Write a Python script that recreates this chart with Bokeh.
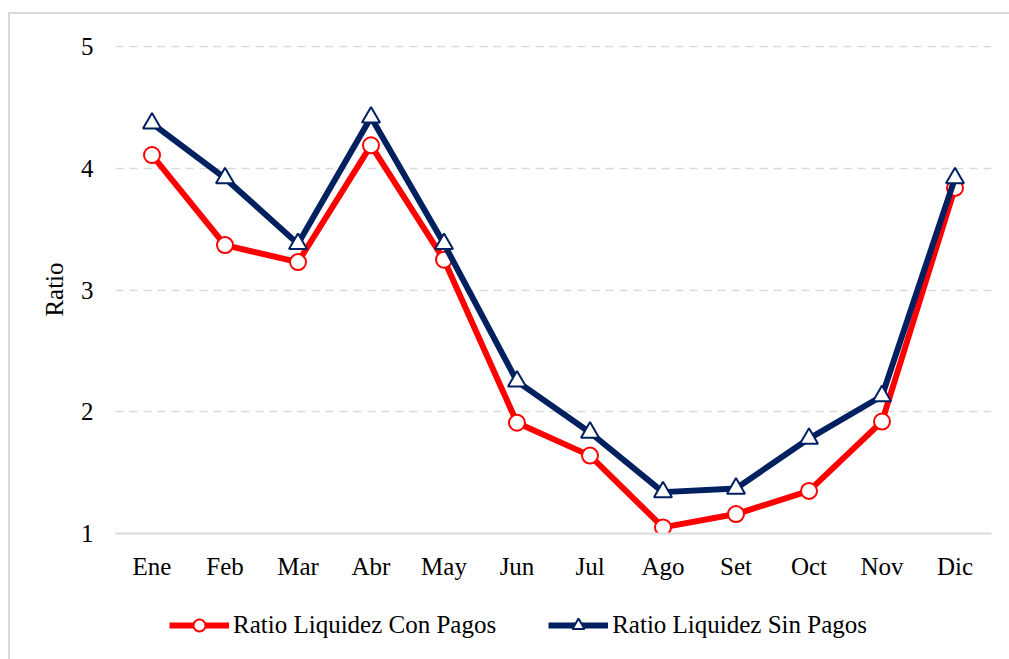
from bokeh.plotting import figure
from bokeh.models import Range1d, Legend, LegendItem, FixedTicker
from bokeh.layouts import column
from bokeh.embed import file_html
from bokeh.resources import INLINE

months = ["Ene", "Feb", "Mar", "Abr", "May", "Jun", "Jul", "Ago", "Set", "Oct", "Nov", "Dic"]
con_pagos = [4.11, 3.37, 3.23, 4.19, 3.25, 1.91, 1.64, 1.05, 1.16, 1.35, 1.92, 3.84]
sin_pagos = [4.37, 3.92, 3.38, 4.42, 3.38, 2.25, 1.83, 1.34, 1.37, 1.78, 2.13, 3.92]
y_ticks = [1, 2, 3, 4, 5]
series_labels = ["Ratio Liquidez Con Pagos", "Ratio Liquidez Sin Pagos"]

RED = "#FF0000"
NAVY = "#002060"
FONT = "Liberation Serif"
FS = "25px"

p = figure(width=999, height=569, x_range=months, y_range=Range1d(1, 5.01),
           output_backend="svg", toolbar_location=None,
           min_border_left=105, min_border_top=31, min_border_right=18, min_border_bottom=50)
p.outline_line_color = None
p.background_fill_color = "white"
p.border_fill_color = "white"

p.xgrid.grid_line_color = None
p.ygrid.grid_line_color = "#d9d9d9"
p.ygrid.grid_line_dash = "8 6"
p.ygrid.grid_line_width = 1.5
p.yaxis.ticker = FixedTicker(ticks=y_ticks)

p.xaxis.axis_line_color = "#d9d9d9"
p.xaxis.axis_line_width = 2
p.xaxis.major_tick_line_color = None
p.xaxis.minor_tick_line_color = None
p.xaxis.major_label_text_font = FONT
p.xaxis.major_label_text_font_size = FS
p.xaxis.major_label_text_color = "black"
p.xaxis.major_label_standoff = 13

p.yaxis.axis_line_color = None
p.yaxis.major_tick_line_color = None
p.yaxis.minor_tick_line_color = None
p.yaxis.major_label_text_font = FONT
p.yaxis.major_label_text_font_size = FS
p.yaxis.major_label_text_color = "black"
p.yaxis.major_label_standoff = 16
p.yaxis.axis_label = "Ratio"
p.yaxis.axis_label_text_font = FONT
p.yaxis.axis_label_text_font_size = FS
p.yaxis.axis_label_text_font_style = "normal"
p.yaxis.axis_label_text_color = "black"
p.yaxis.axis_label_standoff = 10

def add_series(fig, values, color, marker, size):
    ln = fig.line(months, values, line_color=color, line_width=6)
    mk = fig.scatter(months, values, marker=marker, size=size, fill_color="white",
                     line_color=color, line_width=2)
    return ln, mk

add_series(p, con_pagos, RED, "circle", 16)
add_series(p, sin_pagos, NAVY, "triangle", 18)

# legend strip below the chart (same series, drawn out of its view, used only for the key)
q = figure(width=999, height=76, x_range=p.x_range, y_range=Range1d(100, 101),
           output_backend="svg", toolbar_location=None,
           x_axis_location=None, y_axis_location=None,
           min_border_left=105, min_border_right=18, min_border_top=0, min_border_bottom=0)
q.outline_line_color = None
q.grid.grid_line_color = None
q.background_fill_color = "white"
q.border_fill_color = "white"
l1, m1 = add_series(q, con_pagos, RED, "circle", 16)
l2, m2 = add_series(q, sin_pagos, NAVY, "triangle", 18)

legend = Legend(items=[
    LegendItem(label=series_labels[0], renderers=[l1, m1]),
    LegendItem(label=series_labels[1], renderers=[l2, m2]),
], orientation="horizontal", location=(54, 19))
legend.label_text_font = FONT
legend.label_text_font_size = FS
legend.label_text_color = "black"
legend.glyph_width = 60
legend.glyph_height = 30
legend.label_height = 30
legend.label_standoff = 4
legend.spacing = 52
legend.padding = 0
legend.margin = 0
legend.border_line_color = None
legend.background_fill_alpha = 0
q.add_layout(legend, "center")

layout = column(p, q, spacing=0)
layout.styles = {"margin-left": "8px", "margin-top": "12px",
                 "border-top": "2px solid #d9d9d9", "border-left": "2px solid #d9d9d9"}

open("out.html", "w").write(file_html(layout, INLINE))
